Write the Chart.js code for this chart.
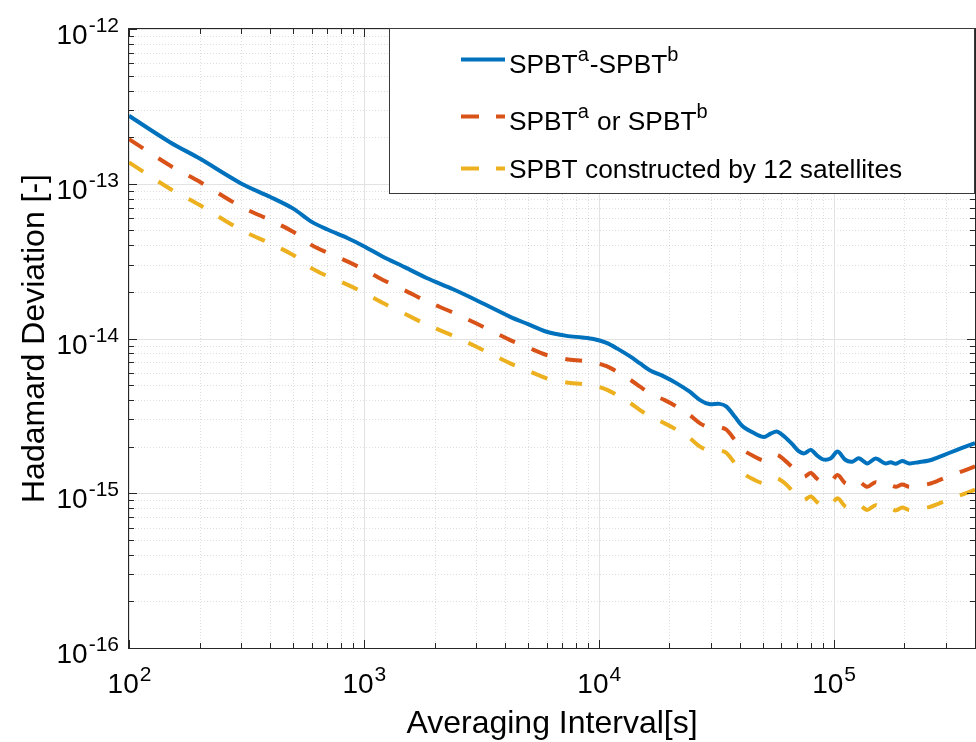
<!DOCTYPE html>
<html>
<head>
<meta charset="utf-8">
<script src="https://cdn.jsdelivr.net/npm/chart.js@4.4.1/dist/chart.umd.min.js"></script>
<style>
  html, body { margin: 0; padding: 0; background: #fff; }
  #wrap { width: 976px; height: 742px; position: relative; }
</style>
</head>
<body>
<div id="wrap"><canvas id="myChart"></canvas></div>
<script>
// averaging interval [s]
const tau = [100, 150, 200, 300, 400, 500, 600, 700, 850, 1000,
  1200, 1500, 1850, 2400, 3000, 4200, 5000, 6000, 7300, 8500,
  9500, 10800, 12000, 13600, 15000, 16500, 19000, 21400, 24400, 27000,
  29500, 32700, 35000, 38000, 41100, 46000, 50500, 54000, 57500, 62000,
  67000, 71000, 75000, 80000, 85000, 90000, 97000, 104000, 112000, 120000,
  128000, 139000, 151000, 166000, 175000, 184000, 196000, 210000, 230000, 255000,
  280000, 310000, 350000, 400000];

// SPBT^a - SPBT^b
const devAB = [2.75e-13, 1.849e-13, 1.455e-13, 1.005e-13, 8.21e-14, 6.91e-14, 5.67e-14, 5.06e-14, 4.46e-14, 3.95e-14,
  3.39e-14, 2.88e-14, 2.46e-14, 2.08e-14, 1.774e-14, 1.38e-14, 1.238e-14, 1.106e-14, 1.04e-14, 1.016e-14,
  9.93e-15, 9.36e-15, 8.6e-15, 7.66e-15, 6.9e-15, 6.24e-15, 5.67e-15, 5.15e-15, 4.53e-15, 4.0e-15,
  3.77e-15, 3.78e-15, 3.63e-15, 3.12e-15, 2.70e-15, 2.44e-15, 2.31e-15, 2.43e-15, 2.50e-15, 2.31e-15,
  2.06e-15, 1.87e-15, 1.81e-15, 1.906e-15, 1.753e-15, 1.655e-15, 1.675e-15, 1.858e-15, 1.646e-15, 1.598e-15,
  1.684e-15, 1.559e-15, 1.675e-15, 1.559e-15, 1.588e-15, 1.55e-15, 1.617e-15, 1.559e-15, 1.588e-15, 1.627e-15,
  1.714e-15, 1.82e-15, 1.954e-15, 2.108e-15];

// SPBT^a or SPBT^b
const devSingle = [1.94e-13, 1.307e-13, 1.029e-13, 7.11e-14, 5.81e-14, 4.89e-14, 4.01e-14, 3.58e-14, 3.15e-14, 2.79e-14,
  2.40e-14, 2.04e-14, 1.74e-14, 1.47e-14, 1.254e-14, 9.76e-15, 8.75e-15, 7.82e-15, 7.35e-15, 7.18e-15,
  7.02e-15, 6.62e-15, 6.08e-15, 5.42e-15, 4.88e-15, 4.41e-15, 4.01e-15, 3.64e-15, 3.20e-15, 2.83e-15,
  2.67e-15, 2.67e-15, 2.57e-15, 2.21e-15, 1.91e-15, 1.73e-15, 1.63e-15, 1.72e-15, 1.77e-15, 1.63e-15,
  1.46e-15, 1.32e-15, 1.28e-15, 1.35e-15, 1.24e-15, 1.17e-15, 1.18e-15, 1.31e-15, 1.16e-15, 1.13e-15,
  1.19e-15, 1.10e-15, 1.18e-15, 1.10e-15, 1.12e-15, 1.10e-15, 1.14e-15, 1.10e-15, 1.12e-15, 1.15e-15,
  1.21e-15, 1.29e-15, 1.38e-15, 1.49e-15];

// SPBT constructed by 12 satellites
const dev12 = [1.375e-13, 9.25e-14, 7.28e-14, 5.03e-14, 4.11e-14, 3.46e-14, 2.84e-14, 2.53e-14, 2.23e-14, 1.98e-14,
  1.70e-14, 1.44e-14, 1.23e-14, 1.04e-14, 8.87e-15, 6.90e-15, 6.19e-15, 5.53e-15, 5.20e-15, 5.08e-15,
  4.97e-15, 4.68e-15, 4.30e-15, 3.83e-15, 3.45e-15, 3.12e-15, 2.84e-15, 2.58e-15, 2.27e-15, 2.00e-15,
  1.89e-15, 1.89e-15, 1.82e-15, 1.56e-15, 1.35e-15, 1.22e-15, 1.16e-15, 1.22e-15, 1.25e-15, 1.16e-15,
  1.03e-15, 9.35e-16, 9.05e-16, 9.53e-16, 8.77e-16, 8.28e-16, 8.38e-16, 9.29e-16, 8.23e-16, 7.99e-16,
  8.42e-16, 7.80e-16, 8.38e-16, 7.80e-16, 7.94e-16, 7.75e-16, 8.09e-16, 7.80e-16, 7.94e-16, 8.14e-16,
  8.57e-16, 9.10e-16, 9.77e-16, 1.054e-15];

// tick labels (10^exp)
const xMajor = [1e2, 1e3, 1e4, 1e5];
const xMajorExp = ["2", "3", "4", "5"];
const yMajor = [1e-16, 1e-15, 1e-14, 1e-13, 1e-12];
const yMajorExp = ["-16", "-15", "-14", "-13", "-12"];

// legend labels, [text, isSuperscript]
const legendLabels = [
  [["SPBT", 0], ["a", 1], ["-SPBT", 0], ["b", 1]],
  [["SPBT", 0], ["a", 1], [" or SPBT", 0], ["b", 1]],
  [["SPBT constructed by 12 satellites", 0]],
];
const colors = ["#0072BD", "#D95319", "#EDB120"];

const xMin = 100, xMax = 4e5, yMin = 1e-16, yMax = 1e-12;
const FONT = "'Liberation Sans', Arial, Helvetica, sans-serif";

function minorVals(lo, hi) {
  const out = [];
  for (let e = Math.floor(Math.log10(lo)); e <= Math.ceil(Math.log10(hi)); e++) {
    for (let m = 2; m <= 9; m++) {
      const v = m * Math.pow(10, e);
      if (v > lo * 1.0001 && v < hi * 0.9999) out.push(v);
    }
  }
  return out;
}

function seg(ctx, x1, y1, x2, y2) {
  ctx.beginPath();
  ctx.moveTo(x1, y1);
  ctx.lineTo(x2, y2);
  ctx.stroke();
}

// "10" with a raised exponent
function powerLabel(ctx, exp, x, baseY, supY, align) {
  ctx.font = `28px ${FONT}`;
  const w1 = ctx.measureText("10").width;
  ctx.font = `21px ${FONT}`;
  const w2 = ctx.measureText(exp).width;
  let sx = align === "right" ? x - w1 - w2 : x - (w1 + w2) / 2;
  ctx.textAlign = "left";
  ctx.textBaseline = "alphabetic";
  ctx.font = `28px ${FONT}`;
  ctx.fillText("10", sx, baseY);
  ctx.font = `21px ${FONT}`;
  ctx.fillText(exp, sx + w1 + 1, supY);
}

const gridPlugin = {
  id: "matlabGrid",
  beforeDatasetsDraw(chart) {
    const { ctx, chartArea: { left, right, top, bottom }, scales: { x, y } } = chart;
    ctx.save();
    ctx.lineWidth = 1;
    // minor dotted
    ctx.strokeStyle = "rgba(0,0,0,0.13)";
    ctx.setLineDash([1, 2]);
    minorVals(xMin, xMax).forEach(v => {
      const px = Math.round(x.getPixelForValue(v)) + 0.5;
      seg(ctx, px, top, px, bottom);
    });
    minorVals(yMin, yMax).forEach(v => {
      const py = Math.round(y.getPixelForValue(v)) + 0.5;
      seg(ctx, left, py, right, py);
    });
    // major solid
    ctx.setLineDash([]);
    ctx.strokeStyle = "#e2e2e2";
    xMajor.forEach(v => {
      const px = Math.round(x.getPixelForValue(v)) + 0.5;
      seg(ctx, px, top, px, bottom);
    });
    yMajor.forEach(v => {
      const py = Math.round(y.getPixelForValue(v)) + 0.5;
      seg(ctx, left, py, right, py);
    });
    ctx.restore();
  },
  afterDatasetsDraw(chart) {
    const { ctx, chartArea: { left, right, top, bottom }, scales: { x, y } } = chart;
    ctx.save();
    ctx.lineWidth = 1;
    ctx.strokeStyle = "#262626";
    ctx.setLineDash([]);
    // box
    ctx.strokeRect(left - 0.5, top - 0.5, right - left + 1, bottom - top + 1);
    // inward ticks on all four sides
    const tx = (v, len) => {
      const px = Math.round(x.getPixelForValue(v)) + 0.5;
      seg(ctx, px, bottom, px, bottom - len);
      seg(ctx, px, top, px, top + len);
    };
    const ty = (v, len) => {
      const py = Math.round(y.getPixelForValue(v)) + 0.5;
      seg(ctx, left, py, left + len, py);
      seg(ctx, right, py, right - len, py);
    };
    minorVals(xMin, xMax).forEach(v => tx(v, 5));
    minorVals(yMin, yMax).forEach(v => ty(v, 5));
    xMajor.forEach(v => tx(v, 8));
    yMajor.forEach(v => ty(v, 8));

    // tick labels
    ctx.fillStyle = "#000";
    xMajor.forEach((v, i) => {
      const px = x.getPixelForValue(v);
      powerLabel(ctx, xMajorExp[i], px, bottom + 45, bottom + 33, "center");
    });
    yMajor.forEach((v, i) => {
      const py = y.getPixelForValue(v);
      powerLabel(ctx, yMajorExp[i], left - 11, py + 15, py + 3, "right");
    });

    // axis titles
    ctx.font = `32px ${FONT}`;
    ctx.textAlign = "center";
    ctx.textBaseline = "alphabetic";
    ctx.fillText("Averaging Interval[s]", (left + right) / 2, 733);
    ctx.save();
    ctx.translate(44, (top + bottom) / 2);
    ctx.rotate(-Math.PI / 2);
    ctx.fillText("Hadamard Deviation [-]", 0, 0);
    ctx.restore();

    // legend
    const bx = 389.5, by = top - 0.5, bw = 585, bh = 165;
    ctx.fillStyle = "#fff";
    ctx.fillRect(bx, by, bw, bh);
    ctx.strokeStyle = "#3a3a3a";
    ctx.strokeRect(bx, by, bw, bh);
    const lineY = [59.5, 116.5, 168.5];
    const textY = [73, 130, 178];
    legendLabels.forEach((parts, i) => {
      ctx.strokeStyle = colors[i];
      ctx.lineWidth = 4;
      ctx.lineCap = "butt";
      ctx.setLineDash(i === 0 ? [] : [18, 17]);
      seg(ctx, 461, lineY[i], 505, lineY[i]);
      ctx.setLineDash([]);
      ctx.fillStyle = "#000";
      ctx.textAlign = "left";
      let cx = 509;
      parts.forEach(([t, sup]) => {
        ctx.font = sup ? `20px ${FONT}` : `26.3px ${FONT}`;
        ctx.fillText(t, cx, sup ? textY[i] - 12 : textY[i]);
        cx += ctx.measureText(t).width + (sup ? 1 : 0);
      });
    });
    ctx.restore();
  }
};

const ctx = document.getElementById("myChart");
const toPts = arr => tau.map((t, i) => ({ x: t, y: arr[i] }));

new Chart(ctx, {
  type: "line",
  data: {
    datasets: [
      { label: "SPBTa-SPBTb", data: toPts(devAB), borderColor: colors[0], borderWidth: 4,
        pointRadius: 0, tension: 0.3, borderJoinStyle: "round", fill: false },
      { label: "SPBTa or SPBTb", data: toPts(devSingle), borderColor: colors[1], borderWidth: 4,
        borderDash: [17, 18], borderCapStyle: "butt", pointRadius: 0, tension: 0.3, fill: false },
      { label: "SPBT constructed by 12 satellites", data: toPts(dev12), borderColor: colors[2], borderWidth: 4,
        borderDash: [17, 18], borderCapStyle: "butt", pointRadius: 0, tension: 0.3, fill: false },
    ],
  },
  options: {
    responsive: true,
    maintainAspectRatio: false,
    animation: false,
    events: [],
    layout: { padding: { left: 129, top: 29, right: 1, bottom: 94 } },
    scales: {
      x: {
        type: "logarithmic", min: xMin, max: xMax,
        ticks: { display: false }, grid: { display: false, drawTicks: false }, border: { display: false },
      },
      y: {
        type: "logarithmic", min: yMin, max: yMax,
        ticks: { display: false }, grid: { display: false, drawTicks: false }, border: { display: false },
      },
    },
    plugins: { legend: { display: false }, tooltip: { enabled: false } },
  },
  plugins: [gridPlugin],
});
</script>
</body>
</html>
